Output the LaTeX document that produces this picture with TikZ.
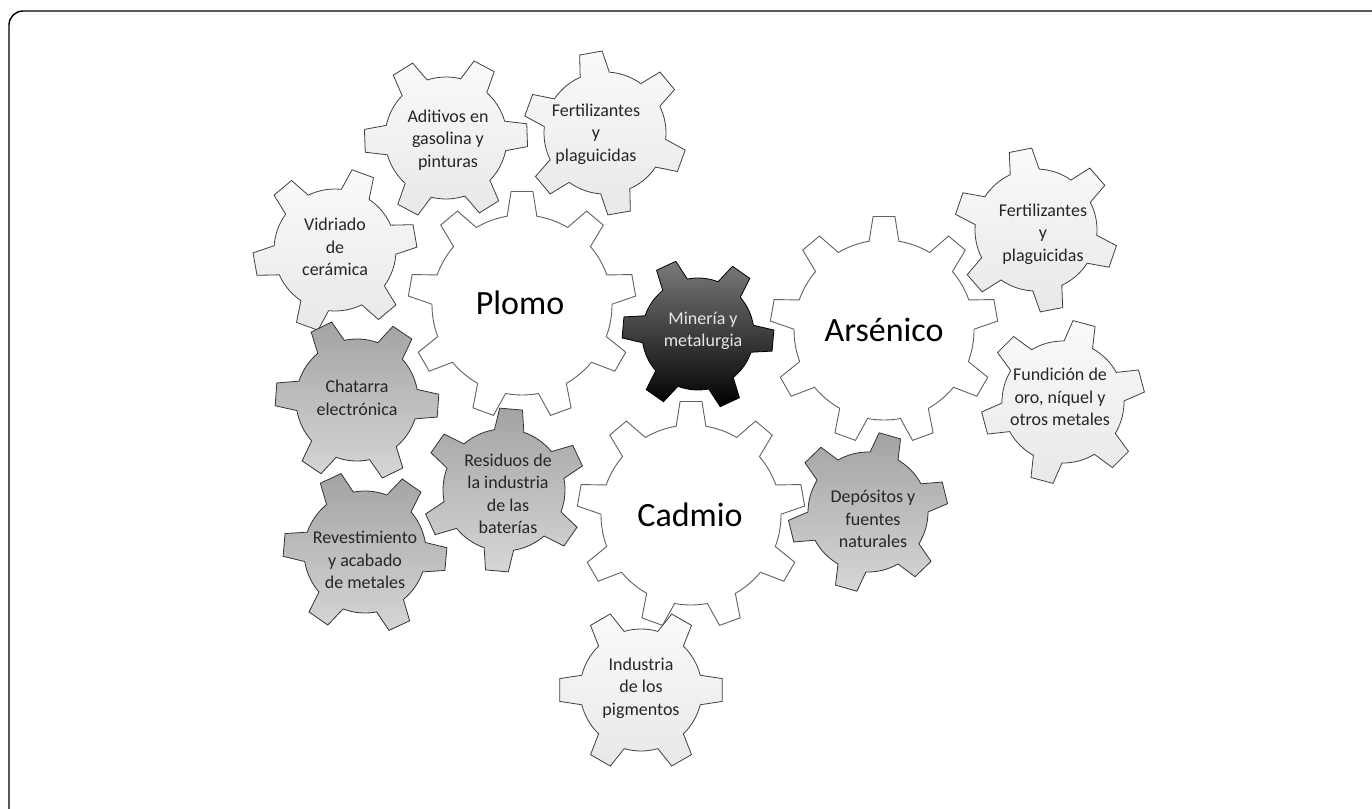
\documentclass[tikz,border=0pt]{standalone}
\usepackage{fontspec}
\setmainfont{Carlito}
\usetikzlibrary{calc}
\newcommand\gear[9]{%
  \pgfmathsetmacro\gstart{#4-#8}%
  \path[#9] ([shift={(#1,#2)}]\gstart:#6)
  \foreach \k [evaluate=\k as \gp using {#4+360*(\k-1)/#3-#7},
               evaluate=\k as \gq using {#4+360*(\k-1)/#3+#7},
               evaluate=\k as \gs using {#4+360*(\k-1)/#3+#8},
               evaluate=\k as \ge using {#4+360*\k/#3-#8}] in {1,...,#3}{
    -- ([shift={(#1,#2)}]\gp:#5)
    -- ([shift={(#1,#2)}]\gq:#5)
    -- ([shift={(#1,#2)}]\gs:#6)
    arc[start angle=\gs, end angle=\ge, radius=#6]
  } -- cycle;}
\tikzset{
  biggear/.style={draw=black!62, line width=0.9pt, fill=white},
  lightgear/.style={draw=black!75, line width=0.8pt, top color=black!2, bottom color=black!9},
  darkgear/.style={draw=black!80, line width=0.8pt, top color=black!36, bottom color=black!16},
  blackgear/.style={draw=black, line width=0.8pt, top color=black!52, middle color=black!70, bottom color=black},
  lbl/.style={align=center, font=\fontsize{18}{22.5}\selectfont, text=black!85, inner sep=0pt},
  biglbl/.style={font=\fontsize{34}{40}\selectfont, text=black, inner sep=0pt},
}
\begin{document}
\begin{tikzpicture}[x=1pt,y=-1pt]
\useasboundingbox (0,0) rectangle (1372,808);
\fill[white] (0,0) rectangle (1372,808);
\begin{scope}
\clip (0,0) rectangle (1372,808);
\draw[line width=1.4pt, rounded corners=14pt] (9,11) rectangle (1400,840);
\end{scope}
% big gears
\gear{522}{305}{9}{-10}{114}{90}{5.5}{9.5}{biggear}
\gear{884}{330}{9}{-10}{114}{90}{5.5}{9.5}{biggear}
\gear{691}{515}{9}{-10}{114}{90}{5.5}{9.5}{biggear}
% small gears
\gear{446}{138}{6}{-2}{82}{61}{8}{14}{lightgear}
\gear{605}{133}{6}{-40}{82}{61}{8}{14}{lightgear}
\gear{335}{250}{6}{-10}{82}{61}{8}{14}{lightgear}
\gear{357}{400}{6}{4}{82}{61}{8}{14}{darkgear}
\gear{365}{552}{6}{5}{82}{61}{8}{14}{darkgear}
\gear{504}{490}{6}{-25}{82}{61}{8}{14}{darkgear}
\gear{641}{690}{6}{0}{82}{61}{8}{14}{lightgear}
\gear{868}{512}{6}{-14}{80}{60}{8}{14}{darkgear}
\gear{1036}{230}{6}{-41}{82}{61}{8}{14}{lightgear}
\gear{1063}{402}{6}{-15}{82}{61}{8}{14}{lightgear}
\gear{698}{334}{6}{5}{76}{56}{8}{14}{blackgear}
% labels
\node[biglbl] (plomo) at (520,303) {Plomo};
\node[biglbl] (arsenico) at (884,330) {Arsénico};
\node[biglbl] (cadmio) at (690,515) {Cadmio};
\node[lbl, text=black!10] (mineria) at (703,331) {Minería y\\metalurgia};
\node[lbl] (aditivos) at (448,140) {Aditivos en\\gasolina y\\pinturas};
\node[lbl] (fert1) at (596,134) {Fertilizantes\\y\\plaguicidas};
\node[lbl] (vidriado) at (335,247) {Vidriado\\de\\cerámica};
\node[lbl] (chatarra) at (357,398) {Chatarra\\electrónica};
\node[lbl] (residuos) at (508,494) {Residuos de\\la industria\\de las\\baterías};
\node[lbl] (revest) at (365,560) {Revestimiento\\y acabado\\de metales};
\node[lbl] (pigm) at (641,688) {Industria\\de los\\pigmentos};
\node[lbl] (depos) at (873,519) {Depósitos y\\fuentes\\naturales};
\node[lbl] (fert2) at (1043,234) {Fertilizantes\\y\\plaguicidas};
\node[lbl] (fundicion) at (1060,397) {Fundición de\\oro, níquel y\\otros metales};
\end{tikzpicture}
\end{document}
